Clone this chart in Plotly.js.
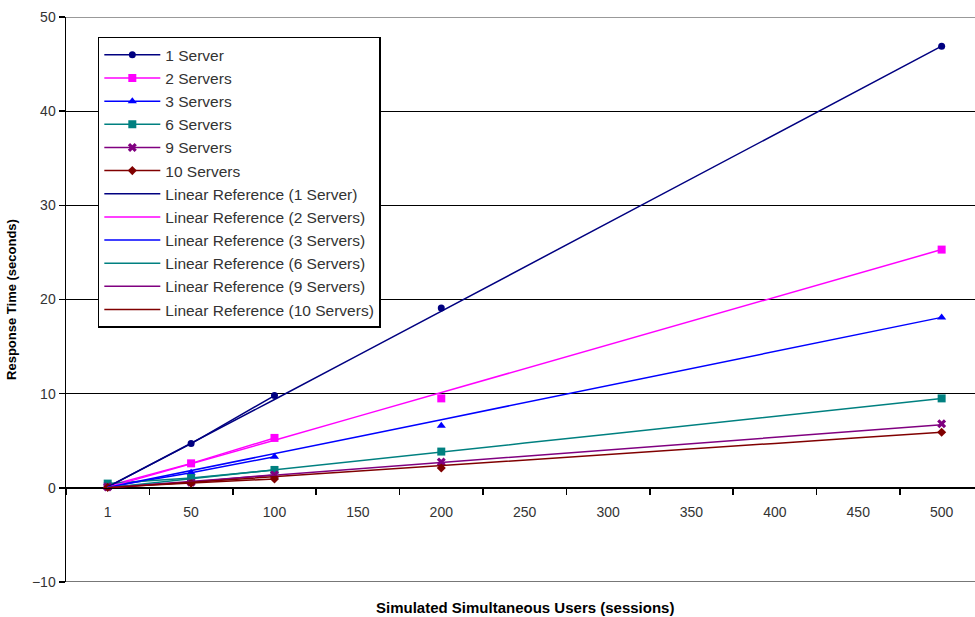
<!DOCTYPE html>
<html>
<head>
<meta charset="utf-8">
<script src="https://cdn.plot.ly/plotly-3.0.1.min.js"></script>
<style>html,body{margin:0;padding:0;background:#fff;}#chart{width:975px;height:617px;}</style>
</head>
<body>
<div id="chart"></div>
<script>
const categories = ['1','50','100','150','200','250','300','350','400','450','500'];

const server1  = [0.1, 4.7, 9.8, null, 19.1, null, null, null, null, null, 46.9];
const server2  = [0.2, 2.6, 5.3, null, 9.5,  null, null, null, null, null, 25.3];
const server3  = [0.1, 1.6, 3.3, null, 6.6,  null, null, null, null, null, 18.1];
const server6  = [0.45,1.05,1.9, null, 3.85, null, null, null, null, null, 9.5];
const server9  = [0.1, 0.6, 1.4, null, 2.75, null, null, null, null, null, 6.8];
const server10 = [0.05,0.5, 0.95,null, 2.1,  null, null, null, null, null, 5.9];

const ref1  = [0.09, 4.69, 9.38, 14.07, 18.76, 23.45, 28.14, 32.83, 37.52, 42.21, 46.9];
const ref2  = [0.05, 2.53, 5.06, 7.59, 10.12, 12.65, 15.18, 17.71, 20.24, 22.77, 25.3];
const ref3  = [0.04, 1.81, 3.62, 5.43, 7.24, 9.05, 10.86, 12.67, 14.48, 16.29, 18.1];
const ref6  = [0.02, 0.95, 1.9, 2.85, 3.8, 4.75, 5.7, 6.65, 7.6, 8.55, 9.5];
const ref9  = [0.01, 0.67, 1.34, 2.01, 2.68, 3.35, 4.02, 4.69, 5.36, 6.03, 6.7];
const ref10 = [0.01, 0.59, 1.18, 1.77, 2.36, 2.95, 3.54, 4.13, 4.72, 5.31, 5.9];

const dataNames = ['1 Server','2 Servers','3 Servers','6 Servers','9 Servers','10 Servers'];
const refNames = ['Linear Reference (1 Server)','Linear Reference (2 Servers)','Linear Reference (3 Servers)',
  'Linear Reference (6 Servers)','Linear Reference (9 Servers)','Linear Reference (10 Servers)'];

const colors = ['#000080','#FF00FF','#0000FF','#008080','#800080','#800000'];
const symbols = ['circle','square','triangle-up','square','x','diamond'];
const sizes = [7,8,8,8,8,7];
const dataSeries = [server1, server2, server3, server6, server9, server10];
const refSeries = [ref1, ref2, ref3, ref6, ref9, ref10];

const traces = [];
dataSeries.forEach((s, i) => {
  traces.push({
    x: categories, y: s, name: dataNames[i], type: 'scatter', mode: 'lines+markers',
    connectgaps: false,
    line: {color: colors[i], width: 1.5},
    marker: {color: colors[i], symbol: symbols[i], size: sizes[i]}
  });
});
refSeries.forEach((s, i) => {
  traces.push({
    x: categories, y: s, name: refNames[i], type: 'scatter', mode: 'lines',
    line: {color: colors[i], width: 1.5}
  });
});

const layout = {
  width: 975, height: 617,
  margin: {l: 66, r: 0, t: 17, b: 35},
  paper_bgcolor: '#fff', plot_bgcolor: '#fff',
  font: {family: 'Liberation Sans, Arial, sans-serif', size: 14, color: '#333'},
  showlegend: true,
  legend: {
    x: 0.035, y: 0.965, xanchor: 'left', yanchor: 'top',
    bgcolor: '#fff', bordercolor: '#000', borderwidth: 1.5,
    font: {size: 15.5, color: '#333'}, tracegroupgap: 0, itemwidth: 56
  },
  xaxis: {
    type: 'category', range: [-0.5, 10.4],
    anchor: 'free', position: 1/6,
    showline: true, linecolor: '#000', linewidth: 1.5,
    ticks: 'outside', ticklen: 6, tickcolor: '#000', tickwidth: 1.5,
    tickson: 'boundaries', showgrid: false, zeroline: false,
    ticklabelstandoff: 11,
    tickfont: {size: 14, color: '#333'}
  },
  yaxis: {
    range: [-10, 50], dtick: 10, tick0: 0,
    showline: true, linecolor: '#000', linewidth: 1.5,
    ticks: 'outside', ticklen: 6, tickcolor: '#000', tickwidth: 1.5,
    showgrid: true, gridcolor: '#000', gridwidth: 1.2, zeroline: false,
    tickfont: {size: 14, color: '#333'},
    title: {text: 'Response Time (seconds)', font: {size: 13, color: '#000', weight: 'bold'}, standoff: 12}
  },
  shapes: [
    {type: 'line', xref: 'paper', yref: 'y', x0: 0, x1: 1, y0: 50, y1: 50, line: {color: '#999', width: 2}, layer: 'above'},
    {type: 'line', xref: 'paper', yref: 'y', x0: 0, x1: 1, y0: -10, y1: -10, line: {color: '#777', width: 2}, layer: 'above'}
  ],
  annotations: [
    {text: '<b>Simulated Simultaneous Users (sessions)</b>', xref: 'paper', yref: 'paper',
     x: (525 - 66) / 909, y: 0, yshift: -25, xanchor: 'center', yanchor: 'middle', showarrow: false,
     font: {size: 15, color: '#000'}}
  ]
};

Plotly.newPlot('chart', traces, layout, {displayModeBar: false, staticPlot: true});
</script>
</body>
</html>
